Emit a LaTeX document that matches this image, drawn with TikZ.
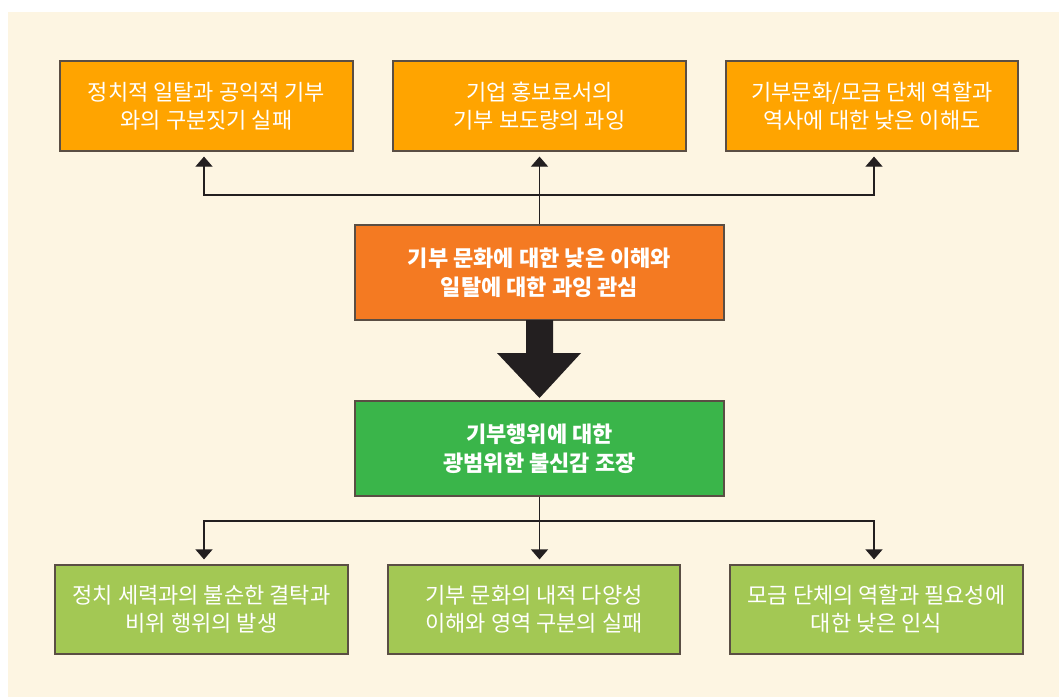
\documentclass[tikz,border=0pt]{standalone}
\usepackage{fontspec}
\setmainfont{Noto Sans CJK KR}
\usetikzlibrary{arrows.meta,calc}
\definecolor{bgc}{HTML}{FDF5E2}
\definecolor{topc}{HTML}{FFA400}
\definecolor{midc}{HTML}{F47A22}
\definecolor{grnc}{HTML}{3AB54A}
\definecolor{lgrc}{HTML}{A3C854}
\definecolor{edgec}{HTML}{5A4E44}
\definecolor{inkc}{HTML}{231F20}
\tikzset{
  box/.style={draw=edgec, line width=1.2pt, text=white, align=center, inner sep=0pt,
    font=\fontsize{22}{28}\selectfont},
  topbox/.style={box, fill=topc, minimum width=293pt, minimum height=90pt},
  botbox/.style={box, fill=lgrc, minimum width=293pt, minimum height=89pt},
  centbox/.style={box, minimum width=369pt, minimum height=95pt, font=\fontsize{22}{29}\selectfont\bfseries},
  arr/.style={draw=inkc, line width=1.2pt, -{Triangle[width=17pt,length=10pt]}, shorten >=5pt},
}
\begin{document}
\begin{tikzpicture}[x=1pt,y=-1pt]
\useasboundingbox (0,0) rectangle (1059,697);
\fill[white] (0,0) rectangle (1059,697);
\fill[bgc] (8,12) rectangle (1059,697);

\node[topbox] (t1) at (206.5,106) {정치적 일탈과 공익적 기부\\와의 구분짓기 실패};
\node[topbox] (t2) at (539.5,106) {기업 홍보로서의\\기부 보도량의 과잉};
\node[topbox, minimum width=292pt] (t3) at (872,106) {기부문화/모금 단체 역할과\\역사에 대한 낮은 이해도};

\node[centbox, fill=midc] (m) at (539.5,272.5) {기부 문화에 대한 낮은 이해와\\일탈에 대한 과잉 관심};
\node[centbox, fill=grnc] (g) at (539.5,448.5) {기부행위에 대한\\광범위한 불신감 조장};

\node[botbox] (b1) at (201.5,609.5) {정치 세력과의 불순한 결탁과\\비위 행위의 발생};
\node[botbox, minimum width=292pt] (b2) at (534,609.5) {기부 문화의 내적 다양성\\이해와 영역 구분의 실패};
\node[botbox] (b3) at (876.5,609.5) {모금 단체의 역할과 필요성에\\대한 낮은 인식};

% upper connectors
\coordinate (jt) at (539.5,195);
\draw[arr] (m.north) -- (m.north |- t2.south);
\draw[arr] (jt) -| ($(t1.south)+(-2.5,0)$);
\draw[arr] (jt) -| ($(t3.south)+(2,0)$);

% big arrow
\fill[inkc] (526,320) -- (553,320) -- (553,353) -- (581,353) -- (539.5,398) -- (497,353) -- (526,353) -- cycle;

% lower connectors
\coordinate (jb) at (539.5,521);
\draw[arr] (g.south) -- (g.south |- b2.north);
\draw[arr] (jb) -| ($(b1.north)+(2.5,0)$);
\draw[arr] (jb) -| ($(b3.north)+(-2.5,0)$);
\end{tikzpicture}
\end{document}
